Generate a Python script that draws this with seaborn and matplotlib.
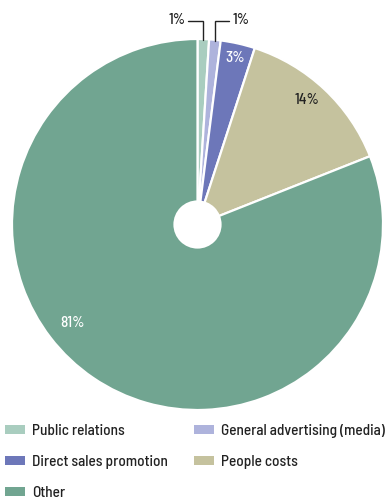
import matplotlib
matplotlib.use("Agg")
import matplotlib.pyplot as plt
from matplotlib.patches import Circle, Patch
import seaborn as sns
import numpy as np

categories = ["Public relations", "General advertising (media)", "Direct sales promotion",
              "People costs", "Other"]
shares = [1, 1, 3, 14, 81]
palette_hex = ["#a9cdbf", "#aeb3dc", "#6d77b9", "#c5c29e", "#71a591"]

sns.set_theme(style="white")
plt.rcParams["font.family"] = ["Barlow Semi Condensed", "DejaVu Sans"]
plt.rcParams["font.weight"] = "medium"

fig = plt.figure(figsize=(3.88, 5.01), dpi=100)
W, H = 388, 501
cx, cy, R = 197.5, 224.5, 185.5
ax = fig.add_axes([(cx - R) / W, (H - cy - R) / H, 2 * R / W, 2 * R / H])

colors = sns.color_palette(palette_hex)
wedges, _ = ax.pie(shares, colors=colors, startangle=90, counterclock=False,
                   radius=1.0, wedgeprops=dict(edgecolor="white", linewidth=1.6))
ax.add_patch(Circle((0, 0), 0.13, facecolor="white", edgecolor="none", zorder=5))
ax.set_xlim(-1, 1)
ax.set_ylim(-1, 1)
ax.set_aspect("equal")
ax.axis("off")

total = sum(shares)
cum = np.cumsum([0] + shares)
mid = [(cum[i] + shares[i] / 2) / total * 2 * np.pi for i in range(len(shares))]

def pct(v):
    return f"{v}%"

fs = 11
# inside labels
inside = {2: (0.205, 0.9, "white"), 3: (0.59, 0.672, "#222222"), 4: (-0.675, -0.53, "white")}
for i, (x, y, c) in inside.items():
    ax.text(x, y, pct(shares[i]), ha="center", va="center", fontsize=fs, color=c)

# leader lines for the two thin slices
lc = "#222222"
for i, (xt, xl) in {0: (-0.11, -0.05), 1: (0.235, 0.168)}.items():
    xs = np.sin(mid[i])
    ys = np.cos(mid[i])
    yl = 1.095
    ax.plot([xl, xs, xs], [yl, yl, ys - 0.005], color=lc, lw=1.0, clip_on=False,
            solid_joinstyle="miter")
    ax.text(xt, 1.105, pct(shares[i]), ha="center", va="center", fontsize=fs,
            color=lc, clip_on=False)

# legend laid out row by row (matplotlib fills columns first)
order = [0, 2, 4, 1, 3]
handles = [Patch(facecolor=colors[i], edgecolor="none") for i in order]
labels = [categories[i] for i in order]
fig.legend(handles, labels, loc="upper left", bbox_to_anchor=(5 / W, 0.153),
           ncol=2, frameon=False, fontsize=fs, borderpad=0, borderaxespad=0,
           handlelength=1.3, handleheight=0.52, handletextpad=0.45,
           columnspacing=1.75, labelspacing=1.1, labelcolor="#222222")

fig.savefig("out.png", dpi=100)
